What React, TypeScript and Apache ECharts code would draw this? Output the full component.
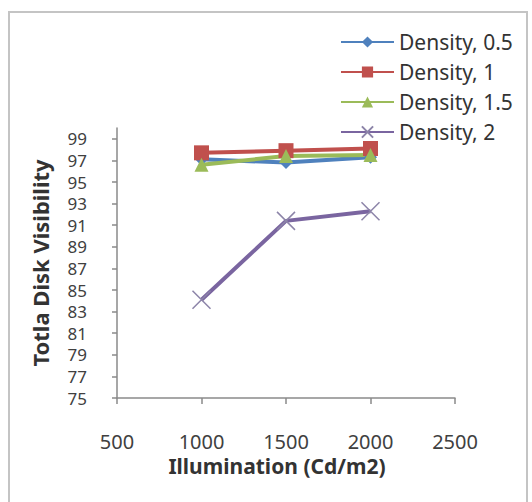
import React, { useEffect, useRef } from "react";
import * as echarts from "echarts";

const illumination = [1000, 1500, 2000];
const density05 = [97.1, 96.8, 97.3];
const density1 = [97.7, 97.9, 98.1];
const density15 = [96.6, 97.4, 97.5];
const density2 = [84.1, 91.4, 92.3];
const seriesNames = ["Density, 0.5", "Density, 1", "Density, 1.5", "Density, 2"];
const yTickValues = [75, 77, 79, 81, 83, 85, 87, 89, 91, 93, 95, 97, 99];
const xTickValues = [500, 1000, 1500, 2000, 2500];

const FONT = "'Noto Sans', sans-serif";

export default function App() {
  const ref = useRef<HTMLDivElement>(null);
  useEffect(() => {
    if (!ref.current) return;
    const chart = echarts.init(ref.current, undefined, { renderer: "svg" });
    const pair = (vals: number[]) => illumination.map((x, i) => [x, vals[i]]);
    const mk = (name: string, vals: number[], color: string, symbol: string, size: number) => ({
      name,
      type: "line",
      data: pair(vals),
      symbol,
      symbolSize: size,
      lineStyle: { color, width: 4 },
      itemStyle: { color },
      z: 2,
    });
    chart.setOption({
      animation: false,
      backgroundColor: "#ffffff",
      graphic: [
        {
          type: "rect",
          shape: { x: 9, y: 12, width: 518, height: 500 },
          style: { fill: "none", stroke: "#c4c4c4", lineWidth: 2 },
          silent: true,
        },
      ],
      legend: {
        orient: "vertical",
        left: 340,
        top: 30,
        padding: 0,
        itemWidth: 53,
        itemHeight: 14,
        itemGap: 6,
        textStyle: { fontFamily: FONT, fontSize: 21, color: "#333333", lineHeight: 24 },
        data: seriesNames,
      },
      grid: { left: 117, right: 77, top: 128, bottom: 104, containLabel: false },
      xAxis: {
        type: "value",
        min: 500,
        max: 2500,
        interval: 500,
        name: "Illumination (Cd/m2)",
        nameLocation: "middle",
        nameGap: 57,
        nameTextStyle: {
          fontFamily: FONT,
          fontSize: 21,
          fontWeight: "bold",
          color: "#333333",
          padding: [0, 18, 0, 0],
        },
        axisLine: { lineStyle: { color: "#8a8a8a", width: 1.5 } },
        axisTick: { show: true, length: 6, lineStyle: { color: "#8a8a8a", width: 1.5 }, customValues: xTickValues },
        axisLabel: {
          fontFamily: FONT,
          fontSize: 20,
          color: "#404040",
          margin: 33,
          customValues: xTickValues,
          formatter: (v: number) => String(v),
        },
        splitLine: { show: false },
      },
      yAxis: {
        type: "value",
        min: 75,
        max: 100,
        name: "Totla Disk Visibility",
        nameLocation: "middle",
        nameGap: 66,
        nameTextStyle: {
          fontFamily: FONT,
          fontSize: 22,
          fontWeight: "bold",
          color: "#333333",
        },
        axisLine: { show: true, lineStyle: { color: "#8a8a8a", width: 1.5 } },
        axisTick: { show: true, length: 5, lineStyle: { color: "#8a8a8a", width: 1.5 }, customValues: yTickValues },
        axisLabel: {
          fontFamily: FONT,
          fontSize: 17,
          color: "#404040",
          margin: 30,
          customValues: yTickValues,
          formatter: (v: number) => String(v),
        },
        splitLine: { show: false },
      },
      series: [
        mk(seriesNames[0], density05, "#4F81BD", "diamond", 13),
        mk(seriesNames[1], density1, "#C0504D", "rect", 15),
        mk(seriesNames[2], density15, "#9BBB59", "triangle", 14),
        {
          name: seriesNames[3],
          type: "line",
          data: pair(density2),
          symbol: "path://M0,0L10,10M10,0L0,10",
          symbolSize: 18,
          lineStyle: { color: "#7A65A0", width: 4 },
          itemStyle: { color: "none", borderColor: "#8c84a8", borderWidth: 1.5 },
          z: 2,
        },
      ],
    });
    return () => chart.dispose();
  }, []);
  return (
    <div
      ref={ref}
      style={{ position: "fixed", left: 0, top: 0, width: 532, height: 502 }}
    />
  );
}
